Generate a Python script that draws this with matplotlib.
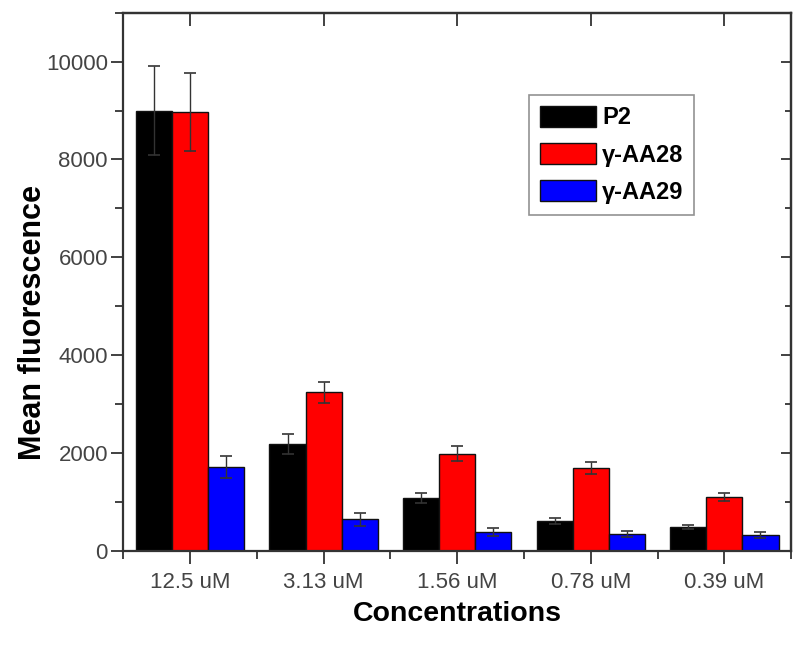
import numpy as np
import matplotlib.pyplot as plt
from matplotlib.ticker import MultipleLocator, FixedLocator

plt.rcParams['font.family'] = ['Liberation Sans', 'DejaVu Sans']

# data
concentrations = ['12.5 uM', '3.13 uM', '1.56 uM', '0.78 uM', '0.39 uM']
series_names = ['P2', 'γ-AA28', 'γ-AA29']
p2 = [9000, 2190, 1090, 615, 490]
p2_err = [900, 210, 100, 65, 45]
aa28 = [8970, 3240, 1990, 1700, 1110]
aa28_err = [800, 220, 160, 120, 80]
aa29 = [1720, 650, 390, 350, 330]
aa29_err = [230, 130, 80, 60, 60]

colors = ['#000000', '#ff0000', '#0000ff']

fig = plt.figure(figsize=(8, 6.51), dpi=100)
ax = fig.add_axes([0.154, 0.1536, 0.835, 0.827])

x = np.arange(len(concentrations))
w = 0.27
for i, (vals, errs) in enumerate([(p2, p2_err), (aa28, aa28_err), (aa29, aa29_err)]):
    ax.bar(x + (i - 1) * w, vals, w, color=colors[i], edgecolor='#111111', linewidth=1,
           label=series_names[i], zorder=2)
    ax.errorbar(x + (i - 1) * w, vals, yerr=errs, fmt='none', ecolor='#333333',
                elinewidth=1, capsize=4, capthick=1.2, zorder=3)

ax.set_xlim(-0.5, len(concentrations) - 0.5)
ax.set_ylim(0, 11000)
ax.set_xticks(x)
ax.set_xticklabels(concentrations)
ax.xaxis.set_minor_locator(FixedLocator(np.arange(-0.5, 5, 1.0)))
ax.yaxis.set_major_locator(MultipleLocator(2000))
ax.yaxis.set_minor_locator(MultipleLocator(1000))

ax.tick_params(axis='both', which='both', direction='out', width=1.3, colors='#333333',
               labelcolor='#444444', labelsize=16)
ax.tick_params(which='major', length=9)
ax.tick_params(which='minor', length=5.5)
ax.tick_params(axis='x', which='major', pad=6)
ax.tick_params(axis='y', which='major', pad=2)
for s in ax.spines.values():
    s.set_linewidth(1.6)
    s.set_color('#333333')

# mirrored ticks on top and right, pointing inward
sec_x = ax.secondary_xaxis('top')
sec_x.set_xticks(x)
sec_x.set_xticklabels([])
sec_x.tick_params(direction='in', length=9, width=1.3, colors='#333333')
sec_y = ax.secondary_yaxis('right')
sec_y.set_yticks(np.arange(0, 11001, 2000))
sec_y.set_yticklabels([])
sec_y.yaxis.set_minor_locator(MultipleLocator(1000))
sec_y.tick_params(which='major', direction='in', length=7, width=1.3, colors='#333333')
sec_y.tick_params(which='minor', direction='in', length=4, width=1.3, colors='#333333')
for s in list(sec_x.spines.values()) + list(sec_y.spines.values()):
    s.set_linewidth(1.6)
    s.set_color('#333333')

ax.set_xlabel('Concentrations', fontsize=20.5, fontweight='bold')
ax.xaxis.set_label_coords(0.5, -0.093)
ax.set_ylabel('Mean fluorescence', fontsize=22, fontweight='bold')
ax.yaxis.set_label_coords(-0.112, 0.424)

leg = ax.legend(loc='upper left', bbox_to_anchor=(529 / 800, 1 - 95 / 651),
                bbox_transform=fig.transFigure, borderaxespad=0,
                prop={'weight': 'bold', 'size': 17},
                frameon=True, fancybox=False, edgecolor='#777777', handlelength=2.4,
                handleheight=1.0, handletextpad=0.25, borderpad=0.45, labelspacing=0.58)
leg.get_frame().set_linewidth(1.2)

fig.savefig('out.png', dpi=100)
